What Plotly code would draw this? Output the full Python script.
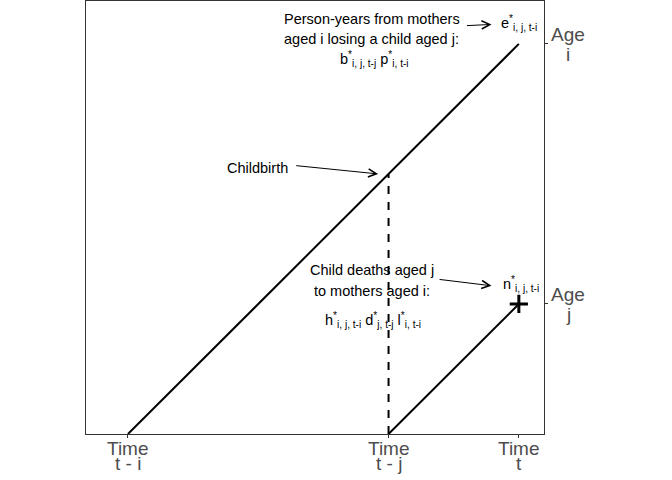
import plotly.graph_objects as go

# Lexis diagram values
times = [0, 20, 30]          # t - i, t - j, t
time_labels = ["Time<br>t - i", "Time<br>t - j", "Time<br>t"]
ages = [10, 30]              # j, i
age_labels = ["Age<br>j", "Age<br>i"]

FONT = "Liberation Sans, Arial, sans-serif"
GREY = "#4d4d4d"

fig = go.Figure()

# mother cohort line, from birth at t-i to age i at t
fig.add_trace(go.Scatter(x=[times[0], times[2]], y=[0, ages[1]], mode="lines",
                         line=dict(color="black", width=2), hoverinfo="skip"))
# child line, born at t-j
fig.add_trace(go.Scatter(x=[times[1], times[2]], y=[0, ages[0]], mode="lines",
                         line=dict(color="black", width=2), hoverinfo="skip"))
# childbirth (dashed) - mother age at t-j
fig.add_trace(go.Scatter(x=[times[1], times[1]], y=[0, times[1] - times[0]], mode="lines",
                         line=dict(color="black", width=2, dash="8px,8px"), hoverinfo="skip"))
# child death point
fig.add_trace(go.Scatter(x=[times[2]], y=[ages[0]], mode="markers",
                         marker=dict(symbol="cross-thin", size=13, line=dict(width=3, color="black")),
                         hoverinfo="skip"))

ann = []


def txt(x, y, s, size=14.5, xanchor="center", color="black"):
    ann.append(dict(x=x, y=y, xref="x", yref="y", text=s, showarrow=False,
                    xanchor=xanchor, yanchor="middle",
                    font=dict(family=FONT, size=size, color=color)))


def arrow(x0, y0, x1, y1):
    ann.append(dict(x=x1, y=y1, ax=x0, ay=y0, xref="x", yref="y", axref="x", ayref="y",
                    text="", showarrow=True, arrowhead=5, arrowsize=1.6, arrowwidth=1,
                    arrowcolor="black", standoff=0, startstandoff=0))


txt(18.7, 31.9, "Person-years from mothers")
txt(18.7, 30.4, "aged i losing a child aged j:")
txt(18.9, 28.85, "b<sup>*</sup><sub>i, j, t-j</sub> p<sup>*</sup><sub>i, t-i</sub>")
arrow(25.9, 31.4, 27.9, 31.5)
txt(28.5, 31.6, "e<sup>*</sup><sub>i, j, t-i</sub>", xanchor="left")

txt(9.95, 20.45, "Childbirth")
arrow(12.8, 20.65, 19.2, 20.0)

txt(18.7, 12.6, "Child deaths aged j")
txt(18.7, 11.0, "to mothers aged i:")
txt(18.8, 8.75, "h<sup>*</sup><sub>i, j, t-i</sub> d<sup>*</sup><sub>j, t-j</sub> l<sup>*</sup><sub>i, t-i</sub>")
arrow(23.8, 11.9, 27.9, 11.4)
txt(28.6, 11.5, "n<sup>*</sup><sub>i, j, t-i</sub>", xanchor="left")

# x tick labels with tight line spacing
for t, lab in zip(times, time_labels):
    top, bot = lab.split("<br>")
    ann.append(dict(x=t, y=0, xref="x", yref="paper", text=top, showarrow=False,
                    yanchor="middle", yshift=-14, font=dict(family=FONT, size=19, color=GREY)))
    ann.append(dict(x=t, y=0, xref="x", yref="paper", text=bot, showarrow=False,
                    yanchor="middle", yshift=-29, font=dict(family=FONT, size=19, color=GREY)))

# y tick labels, centred lines on the right
for a, lab in zip(ages, age_labels):
    top, bot = lab.split("<br>")
    ann.append(dict(x=1, y=a, xref="paper", yref="y", text=top, showarrow=False,
                    xanchor="center", yanchor="middle", xshift=24, yshift=9,
                    font=dict(family=FONT, size=19, color=GREY)))
    ann.append(dict(x=1, y=a, xref="paper", yref="y", text=bot, showarrow=False,
                    xanchor="center", yanchor="middle", xshift=24, yshift=-11,
                    font=dict(family=FONT, size=19, color=GREY)))

fig.update_layout(
    width=672, height=480,
    margin=dict(l=86, r=128, t=1, b=46),
    paper_bgcolor="white", plot_bgcolor="white",
    showlegend=False,
    annotations=ann,
    xaxis=dict(range=[-3.22, 31.93], tickvals=times, ticktext=["", "", ""],
               ticks="outside", ticklen=3, tickcolor="#333333",
               showgrid=False, zeroline=False, showline=True, linecolor="#333333",
               linewidth=1, mirror=True),
    yaxis=dict(range=[0, 33.3], side="right", tickvals=ages, ticktext=["", ""],
               ticks="outside", ticklen=3, tickcolor="#333333",
               showgrid=False, zeroline=False, showline=True, linecolor="#333333",
               linewidth=1, mirror=True),
)

# page has an 8px body margin by default, drop it so the figure sits at 0,0
fig.write_html("out.html", config={"displayModeBar": False},
               post_script="document.body.style.margin='0';")
